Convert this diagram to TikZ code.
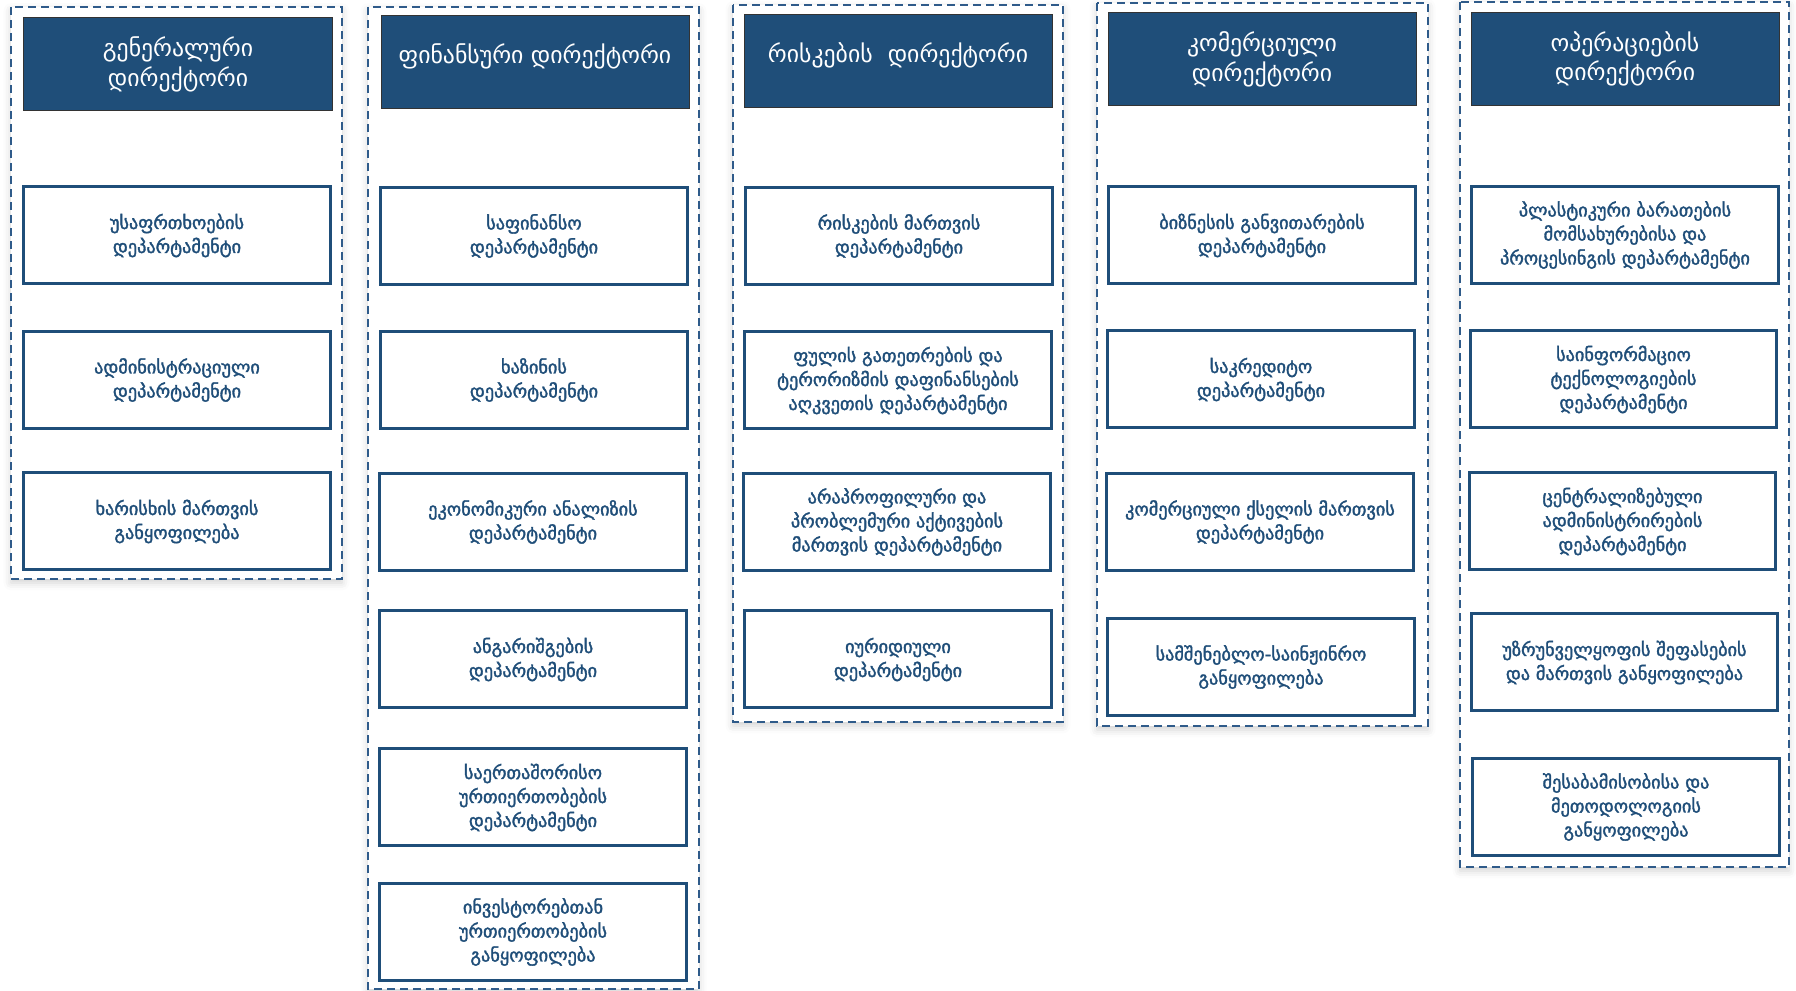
\documentclass[tikz,border=0pt]{standalone}
\usepackage{fontspec}
\setmainfont{DejaVu Sans}
\newfontfamily\deptfont{DejaVu Sans}[FakeBold=1.8]
\usetikzlibrary{shadows.blur}
\definecolor{navy}{HTML}{1F4E79}
\definecolor{dashblue}{HTML}{2F5B8A}
\begin{document}
\begin{tikzpicture}[x=0.4pt,y=-0.4pt,
  group/.style={draw=dashblue,line width=0.8pt,dash pattern=on 3.2pt off 2pt,fill=white,
    blur shadow={shadow xshift=0pt,shadow yshift=-1.5pt,shadow blur radius=3pt,shadow opacity=18}},
  head/.style={draw=black!80,line width=0.4pt,fill=navy,text=white,minimum width=123.2pt,
    minimum height=37.2pt,align=center,inner sep=0pt,font=\fontsize{9.5}{11.8}\selectfont},
  dept/.style={draw=navy,line width=1.2pt,fill=white,text=navy,minimum width=122.6pt,
    minimum height=38.8pt,align=center,inner sep=0pt,font=\deptfont\fontsize{7.3}{9.6}\selectfont}]
\useasboundingbox (0,0) rectangle (1796,991);
\draw[group] (11,7) rectangle (342,579);
\draw[group] (368,7) rectangle (699,989);
\draw[group] (733,5) rectangle (1063,722);
\draw[group] (1097,3) rectangle (1428,726);
\draw[group] (1460,2) rectangle (1789,867);
\path node (gendir) at (178,64.5) [head] {გენერალური\\დირექტორი}
      node (security) at (177,235.5) [dept] {უსაფრთხოების\\დეპარტამენტი}
      node (admin) at (177,380) [dept] {ადმინისტრაციული\\დეპარტამენტი}
      node (quality) at (177,521.5) [dept] {ხარისხის მართვის\\განყოფილება}
;
\path node (findir) at (535,62) [head] {\raisebox{6.5pt}{ფინანსური დირექტორი}}
      node (finance) at (534,236) [dept] {საფინანსო\\დეპარტამენტი}
      node (treasury) at (534,380) [dept] {ხაზინის\\დეპარტამენტი}
      node (economy) at (533,522) [dept] {ეკონომიკური ანალიზის\\დეპარტამენტი}
      node (reporting) at (533,659.5) [dept] {ანგარიშგების\\დეპარტამენტი}
      node (intl) at (533,797.5) [dept] {საერთაშორისო\\ურთიერთობების\\დეპარტამენტი}
      node (investor) at (533,932) [dept] {ინვესტორებთან\\ურთიერთობების\\განყოფილება}
;
\path node (riskdir) at (898,61) [head] {\raisebox{6.5pt}{რისკების\ \ დირექტორი}}
      node (riskmgmt) at (899,236) [dept] {რისკების მართვის\\დეპარტამენტი}
      node (aml) at (898,380.5) [dept] {ფულის გათეთრების და\\ტერორიზმის დაფინანსების\\აღკვეთის დეპარტამენტი}
      node (assets) at (897,522) [dept] {არაპროფილური და\\პრობლემური აქტივების\\მართვის დეპარტამენტი}
      node (legal) at (898,659.5) [dept] {იურიდიული\\დეპარტამენტი}
;
\path node (comdir) at (1262,59.5) [head] {კომერციული\\დირექტორი}
      node (business) at (1262,235.5) [dept] {ბიზნესის განვითარების\\დეპარტამენტი}
      node (credit) at (1261,379.5) [dept] {საკრედიტო\\დეპარტამენტი}
      node (network) at (1260,522) [dept] {კომერციული ქსელის მართვის\\დეპარტამენტი}
      node (construct) at (1261,667) [dept] {სამშენებლო-საინჟინრო\\განყოფილება}
;
\path node (opdir) at (1625,59) [head] {ოპერაციების\\დირექტორი}
      node (cards) at (1625,235) [dept] {პლასტიკური ბარათების\\მომსახურებისა და\\პროცესინგის დეპარტამენტი}
      node (itech) at (1623.5,379.5) [dept] {საინფორმაციო\\ტექნოლოგიების\\დეპარტამენტი}
      node (central) at (1622.5,521.5) [dept] {ცენტრალიზებული\\ადმინისტრირების\\დეპარტამენტი}
      node (collateral) at (1624.5,662.5) [dept] {უზრუნველყოფის შეფასების\\და მართვის განყოფილება}
      node (compliance) at (1626,807) [dept] {შესაბამისობისა და\\მეთოდოლოგიის\\განყოფილება}
;
\end{tikzpicture}
\end{document}
